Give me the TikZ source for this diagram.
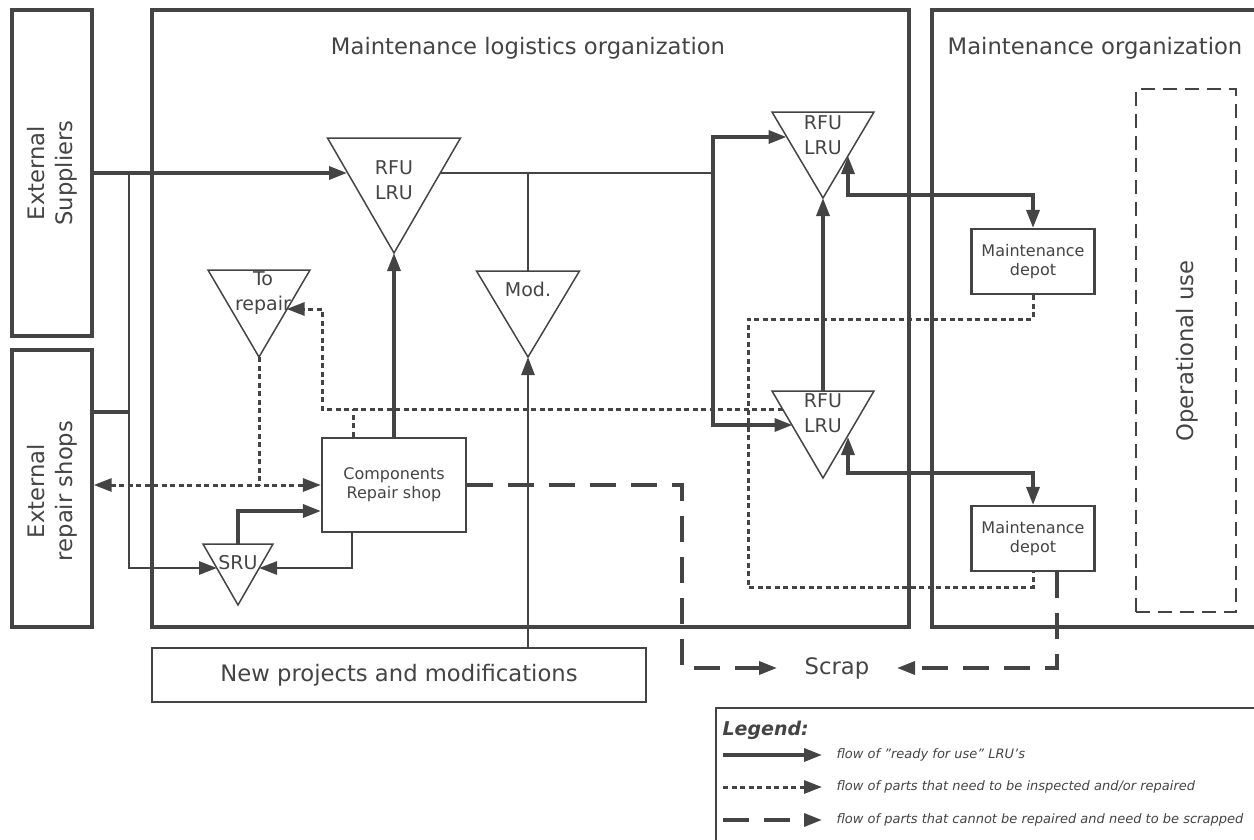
\documentclass[tikz,border=0pt]{standalone}
\usepackage{fontspec}
\setmainfont{DejaVu Sans}
\usetikzlibrary{arrows.meta,calc}
\definecolor{ink}{HTML}{444444}
\newcommand\mytri[5]{%
  \coordinate (#1-tl) at ({#2-#4},#3);
  \coordinate (#1-tr) at ({#2+#4},#3);
  \coordinate (#1-v) at (#2,{#3+#5});
  \coordinate (#1-t) at (#2,#3);
  \draw[tri] (#1-tl) -- (#1-tr) -- (#1-v) -- cycle;}
\begin{document}
\begin{tikzpicture}[x=1pt,y=-1pt,
  every node/.style={text=ink},
  big/.style={font=\fontsize{22.7}{28}\selectfont},
  mid/.style={font=\fontsize{19}{24.5}\selectfont},
  small/.style={font=\fontsize{16}{19}\selectfont},
  org/.style={draw=ink, line width=3.4pt, inner sep=0pt},
  box/.style={draw=ink, line width=2.2pt, inner sep=0pt},
  tri/.style={draw=ink, line width=1.5pt},
  tip/.style={-{Triangle[length=18pt,width=13pt]}},
  solid3/.style={draw=ink, line width=3.4pt},
  solid2/.style={draw=ink, line width=2.5pt},
  dotl/.style={draw=ink, line width=3pt, dash pattern=on 5pt off 3.5pt},
  dashl/.style={draw=ink, line width=3.4pt, dash pattern=on 26pt off 15pt},
]
\useasboundingbox (0,0) rectangle (1254,839);

% organisation boxes
\node[org, minimum width=80, minimum height=326] (es) at (52,173) {};
\node[big, rotate=90, align=center] (estext) at (52,173) {External\\Suppliers};
\node[org, minimum width=80, minimum height=277] (ers) at (52,488.5) {};
\node[big, rotate=90, align=center] (erstext) at (52,491) {External\\repair shops};
\node[org, minimum width=757, minimum height=617] (log) at (530.5,318.5) {};
\node[org, minimum width=340, minimum height=617] (morg) at (1102,318.5) {};
\node[big] (tlog) at (528,48) {Maintenance logistics organization};
\node[big] (torg) at (1095,48) {Maintenance organization};

% operational use
\node[draw=ink, line width=1.7pt, dash pattern=on 14pt off 8pt, minimum width=100, minimum height=523] (op) at (1186,350.5) {};
\node[big, rotate=90] (optext) at (1187,351) {Operational use};

% triangles
\mytri{T1}{394}{138}{66.5}{115}
\node[mid, align=center] (t1txt) at (394,180) {RFU\\LRU};
\mytri{TR}{259}{270}{51}{87}
\node[mid, align=center] (trtxt) at (263,293) {To\\repair};
\mytri{MD}{528}{271}{51.5}{86}
\node[mid] (mdtxt) at (528,289) {Mod.};
\mytri{SR}{238}{544}{35}{61}
\node[mid] (srtxt) at (238,563) {SRU};
\mytri{U}{823}{112}{51}{86}
\node[mid, align=center] (utxt) at (823,135) {RFU\\LRU};
\mytri{L}{823}{391}{51}{87}
\node[mid, align=center] (ltxt) at (823,413) {RFU\\LRU};

% boxes
\node[box, small, align=center, minimum width=144, minimum height=94] (crs) at (394,485) {Components\\Repair shop};
\node[box, small, align=center, minimum width=123, minimum height=65] (d1) at (1033,261.5) {Maintenance\\depot};
\node[box, small, align=center, minimum width=123, minimum height=65] (d2) at (1033,538.5) {Maintenance\\depot};
\node[box, big, minimum width=494, minimum height=54] (np) at (399,675) {New projects and modifications};
\node[big] (scrap) at (837,668) {Scrap};

% edge points
\coordinate (T1-inL) at (347,173);
\coordinate (T1-outR) at (440.3,173);
\coordinate (j1) at (129,173);
\coordinate (j2) at (129,412);
\coordinate (j3) at (129,568);
\coordinate (SR-inL) at (217,568);
\coordinate (SR-inR) at (259,568);
\coordinate (k1) at (713,173);
\coordinate (m1) at (528,173);
\coordinate (U-inL) at (786.5,137);
\coordinate (L-inL) at (792.5,425);
\coordinate (U-inR) at (848,156);
\coordinate (L-inR) at (848,437);
\coordinate (L-inD) at (782.6,409);
\coordinate (TR-inR) at (286.6,309);
\coordinate (q1) at (322,409);

% solid flows
\draw[solid3, tip] (es.east |- j1) -- (T1-inL);
\draw[solid3] (ers.east |- j2) -- (j2);
\draw[draw=ink, line width=2.8pt, tip] (j1) -- (j3) -- (SR-inL);
\draw[solid3, tip] (crs.north) -- (T1-v);
\draw[solid3, tip] (SR-t) -- (238,511) -- (crs.west |- 0,511);
\draw[draw=ink, line width=2.8pt, tip] (crs.south -| 352,0) -- (352,568) -- (SR-inR);
\draw[solid2] (T1-outR) -- (k1);
\draw[solid2] (m1) -- (MD-t);
\draw[solid3, tip] (k1) -- (713,137) -- (U-inL);
\draw[solid3, tip] (k1) -- (713,425) -- (L-inL);
\draw[solid2, tip] (MD-v |- np.north) -- (MD-v);
\draw[solid3, tip] (L-t) -- (U-v);
\draw[solid3, {Triangle[length=18pt,width=13pt]}-{Triangle[length=18pt,width=13pt]}] (U-inR) -- (848,195) -- (1033,195) -- (d1.north);
\draw[solid3, {Triangle[length=18pt,width=13pt]}-{Triangle[length=18pt,width=13pt]}] (L-inR) -- (848,473) -- (1033,473) -- (d2.north);

% dotted flows
\draw[dotl, tip] (L-inD) -- (q1) -- (322,309) -- (TR-inR);
\draw[dotl] (crs.north -| 353,0) -- (353,409);
\draw[dotl] (TR-v) -- (TR-v |- crs.west);
\draw[dotl, {Triangle[length=18pt,width=13pt]}-{Triangle[length=18pt,width=13pt]}] (ers.east |- crs.west) -- (crs.west);
\draw[dotl] (d1.south) -- (1033,319) -- (748,319) -- (748,587) -- (1033,587) -- (d2.south);

% dashed flows
\draw[dashl, tip] (crs.east) -- (682,485) -- (682,668) -- (777,668);
\draw[dashl, tip] (d2.south -| 1057,0) -- (1057,668) -- (897,668);

% legend
\node[draw=ink, line width=1.8pt, minimum width=560, minimum height=150, inner sep=0pt] (leg) at (996,783) {};
\node[anchor=west, font=\fontsize{19}{22}\selectfont\bfseries\itshape] (legt) at (719,730) {Legend:};
\coordinate (l1a) at (723,755); \coordinate (l1b) at (822,755);
\coordinate (l2a) at (723,787); \coordinate (l2b) at (822,787);
\coordinate (l3a) at (723,820); \coordinate (l3b) at (822,820);
\draw[solid3, tip] (l1a) -- (l1b);
\draw[dotl, tip] (l2a) -- (l2b);
\draw[dashl, tip] (l3a) -- (l3b);
\node[anchor=west, font=\fontsize{13}{15}\selectfont\itshape] (lt1) at (833,755) {flow of "ready for use" LRU's};
\node[anchor=west, font=\fontsize{13}{15}\selectfont\itshape] (lt2) at (833,787) {flow of parts that need to be inspected and/or repaired};
\node[anchor=west, font=\fontsize{13}{15}\selectfont\itshape] (lt3) at (833,820) {flow of parts that cannot be repaired and need to be scrapped};
\end{tikzpicture}
\end{document}
